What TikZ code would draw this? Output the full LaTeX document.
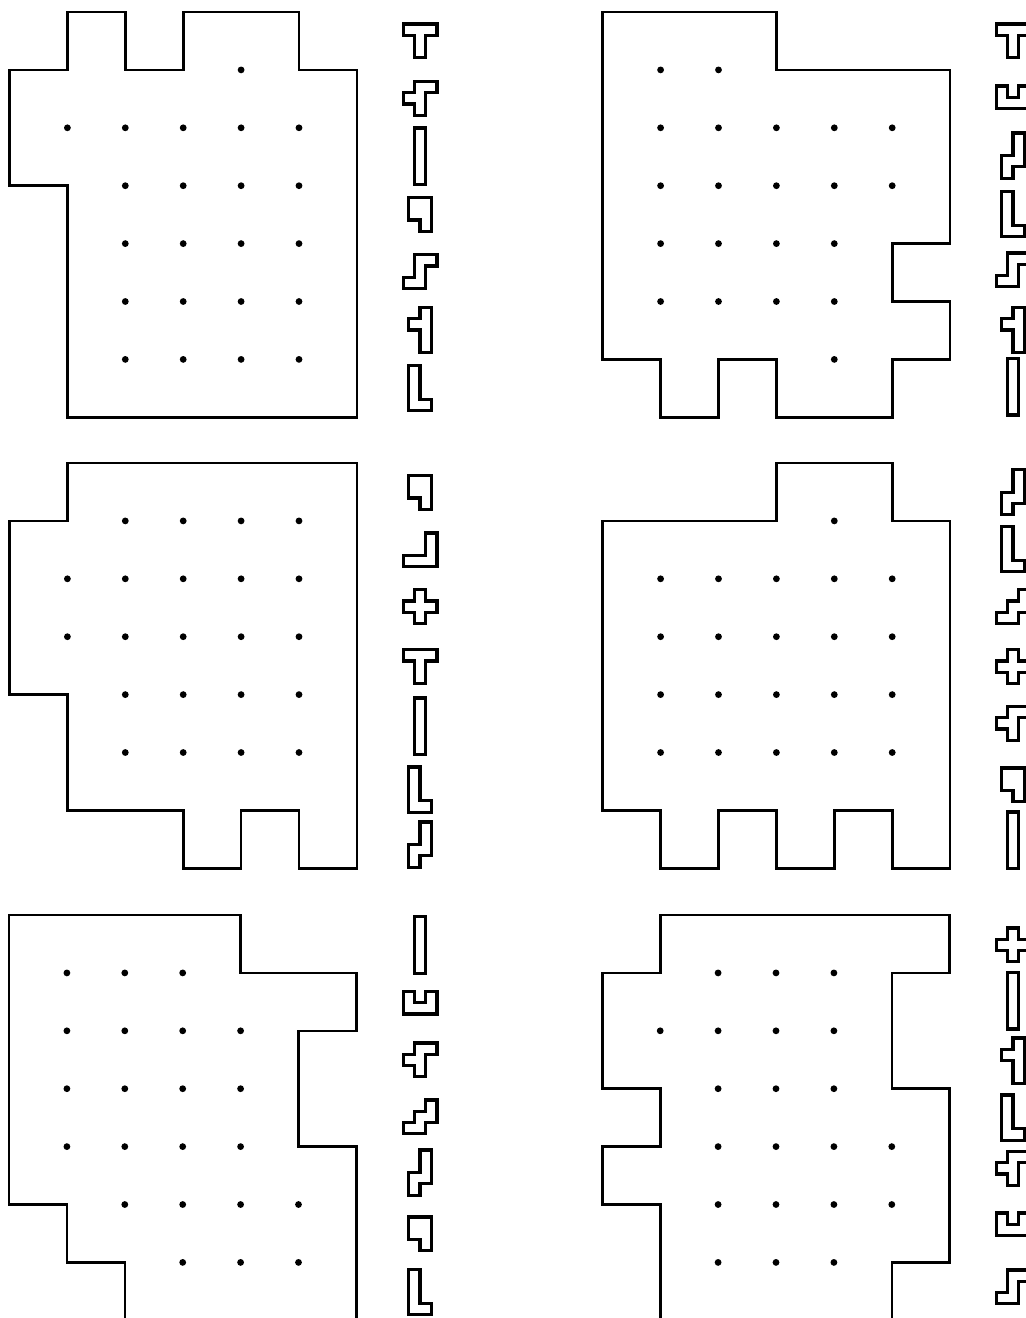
\documentclass[tikz,border=0pt]{standalone}
\usetikzlibrary{calc}

\tikzset{
  board/.style={line width=1.3pt, x=28.95pt, y=-28.95pt},
  piece/.style={line width=1.55pt, x=5.65pt, y=-5.65pt},
  pics/pT/.style={code={\draw[piece] (-1.5,0) -- (1.5,0) -- (1.5,1) -- (0.5,1) -- (0.5,3) -- (-0.5,3) -- (-0.5,1) -- (-1.5,1) -- cycle;}},
  pics/pF/.style={code={\draw[piece] (-0.5,0) -- (1.5,0) -- (1.5,1) -- (0.5,1) -- (0.5,3) -- (-0.5,3) -- (-0.5,2) -- (-1.5,2) -- (-1.5,1) -- (-0.5,1) -- cycle;}},
  pics/pI/.style={code={\draw[piece] (-0.5,0) -- (0.5,0) -- (0.5,5) -- (-0.5,5) -- cycle;}},
  pics/pP/.style={code={\draw[piece] (-1,0) -- (1,0) -- (1,3) -- (0,3) -- (0,2) -- (-1,2) -- cycle;}},
  pics/pZ/.style={code={\draw[piece] (-0.5,0) -- (1.5,0) -- (1.5,1) -- (0.5,1) -- (0.5,3) -- (-1.5,3) -- (-1.5,2) -- (-0.5,2) -- cycle;}},
  pics/pY/.style={code={\draw[piece] (0,0) -- (1,0) -- (1,4) -- (0,4) -- (0,2) -- (-1,2) -- (-1,1) -- (0,1) -- cycle;}},
  pics/pL/.style={code={\draw[piece] (-1,0) -- (0,0) -- (0,3) -- (1,3) -- (1,4) -- (-1,4) -- cycle;}},
  pics/pU/.style={code={\draw[piece] (-1.5,0) -- (-0.5,0) -- (-0.5,1) -- (0.5,1) -- (0.5,0) -- (1.5,0) -- (1.5,2) -- (-1.5,2) -- cycle;}},
  pics/pN/.style={code={\draw[piece] (0,0) -- (1,0) -- (1,3) -- (0,3) -- (0,4) -- (-1,4) -- (-1,2) -- (0,2) -- cycle;}},
  pics/pV/.style={code={\draw[piece] (0.5,0) -- (1.5,0) -- (1.5,3) -- (-1.5,3) -- (-1.5,2) -- (0.5,2) -- cycle;}},
  pics/pW/.style={code={\draw[piece] (0.5,0) -- (1.5,0) -- (1.5,2) -- (0.5,2) -- (0.5,3) -- (-1.5,3) -- (-1.5,2) -- (-0.5,2) -- (-0.5,1) -- (0.5,1) -- cycle;}},
  pics/pX/.style={code={\draw[piece] (-0.5,0) -- (0.5,0) -- (0.5,1) -- (1.5,1) -- (1.5,2) -- (0.5,2) -- (0.5,3) -- (-0.5,3) -- (-0.5,2) -- (-1.5,2) -- (-1.5,1) -- (-0.5,1) -- cycle;}},
}

\begin{document}
\begin{tikzpicture}[x=0.5pt, y=-0.5pt]
  \useasboundingbox (0,0) rectangle (1026,1318);

  % 左上
  \begin{scope}[shift={(9.5,12)}, board]
    \draw (1,0) -- (2,0) -- (2,1) -- (3,1) -- (3,0) -- (5,0) -- (5,1) -- (6,1) -- (6,7) -- (1,7) -- (1,3) -- (0,3) -- (0,1) -- (1,1) -- cycle;
    \fill (4,1) circle (1.7pt);
    \foreach \x in {1,...,5} \fill (\x,2) circle (1.7pt);
    \foreach \y in {3,...,6} \foreach \x in {2,...,5} \fill (\x,\y) circle (1.7pt);
  \end{scope}
  \pic at (420,24) {pT};
  \pic at (420,81.4) {pF};
  \pic at (420,128) {pI};
  \pic at (420,197.4) {pP};
  \pic at (420,254.7) {pZ};
  \pic at (420,307.4) {pY};
  \pic at (420,365.4) {pL};

  % 右上
  \begin{scope}[shift={(602.7,12)}, board]
    \draw (0,0) -- (3,0) -- (3,1) -- (6,1) -- (6,4) -- (5,4) -- (5,5) -- (6,5) -- (6,6) -- (5,6) -- (5,7) -- (3,7) -- (3,6) -- (2,6) -- (2,7) -- (1,7) -- (1,6) -- (0,6) -- cycle;
    \foreach \x in {1,2} \fill (\x,1) circle (1.7pt);
    \foreach \y in {2,3} \foreach \x in {1,...,5} \fill (\x,\y) circle (1.7pt);
    \foreach \y in {4,5} \foreach \x in {1,...,4} \fill (\x,\y) circle (1.7pt);
    \fill (4,6) circle (1.7pt);
  \end{scope}
  \pic at (1013,24) {pT};
  \pic at (1013,86) {pU};
  \pic at (1013,133) {pN};
  \pic at (1013,191.4) {pL};
  \pic at (1013,253) {pZ};
  \pic at (1013,307.4) {pY};
  \pic at (1013,358.5) {pI};

  % 左中
  \begin{scope}[shift={(9.5,463)}, board]
    \draw (1,0) -- (6,0) -- (6,7) -- (5,7) -- (5,6) -- (4,6) -- (4,7) -- (3,7) -- (3,6) -- (1,6) -- (1,4) -- (0,4) -- (0,1) -- (1,1) -- cycle;
    \foreach \x in {2,...,5} \fill (\x,1) circle (1.7pt);
    \foreach \y in {2,3} \foreach \x in {1,...,5} \fill (\x,\y) circle (1.7pt);
    \foreach \y in {4,5} \foreach \x in {2,...,5} \fill (\x,\y) circle (1.7pt);
  \end{scope}
  \pic at (420,475.4) {pP};
  \pic at (420,533) {pV};
  \pic at (420,589.7) {pX};
  \pic at (420,649.7) {pT};
  \pic at (420,698) {pI};
  \pic at (420,767) {pL};
  \pic at (420,822) {pN};

  % 右中
  \begin{scope}[shift={(602.7,463)}, board]
    \draw (3,0) -- (5,0) -- (5,1) -- (6,1) -- (6,7) -- (5,7) -- (5,6) -- (4,6) -- (4,7) -- (3,7) -- (3,6) -- (2,6) -- (2,7) -- (1,7) -- (1,6) -- (0,6) -- (0,1) -- (3,1) -- cycle;
    \fill (4,1) circle (1.7pt);
    \foreach \y in {2,...,5} \foreach \x in {1,...,5} \fill (\x,\y) circle (1.7pt);
  \end{scope}
  \pic at (1013,469.7) {pN};
  \pic at (1013,526.4) {pL};
  \pic at (1013,589.7) {pW};
  \pic at (1013,649.7) {pX};
  \pic at (1013,706.4) {pF};
  \pic at (1013,768) {pP};
  \pic at (1013,812) {pI};

  % 左下
  \begin{scope}[shift={(9,915)}, board]
    \draw (0,0) -- (4,0) -- (4,1) -- (6,1) -- (6,2) -- (5,2) -- (5,4) -- (6,4) -- (6,7) -- (2,7) -- (2,6) -- (1,6) -- (1,5) -- (0,5) -- cycle;
    \foreach \x in {1,2,3} \fill (\x,1) circle (1.7pt);
    \foreach \y in {2,3,4} \foreach \x in {1,...,4} \fill (\x,\y) circle (1.7pt);
    \foreach \x in {2,...,5} \fill (\x,5) circle (1.7pt);
    \foreach \x in {3,4,5} \fill (\x,6) circle (1.7pt);
  \end{scope}
  \pic at (420,916.7) {pI};
  \pic at (420,991.4) {pU};
  \pic at (420,1043) {pF};
  \pic at (420,1100) {pW};
  \pic at (420,1150) {pN};
  \pic at (420,1217) {pP};
  \pic at (420,1269.7) {pL};

  % 右下
  \begin{scope}[shift={(602.3,915)}, board]
    \draw (1,0) -- (6,0) -- (6,1) -- (5,1) -- (5,3) -- (6,3) -- (6,6) -- (5,6) -- (5,7) -- (1,7) -- (1,5) -- (0,5) -- (0,4) -- (1,4) -- (1,3) -- (0,3) -- (0,1) -- (1,1) -- cycle;
    \foreach \x in {2,3,4} \fill (\x,1) circle (1.7pt);
    \foreach \x in {1,...,4} \fill (\x,2) circle (1.7pt);
    \foreach \x in {2,3,4} \fill (\x,3) circle (1.7pt);
    \foreach \y in {4,5} \foreach \x in {2,...,5} \fill (\x,\y) circle (1.7pt);
    \foreach \x in {2,3,4} \fill (\x,6) circle (1.7pt);
  \end{scope}
  \pic at (1013,928) {pX};
  \pic at (1013,972.5) {pI};
  \pic at (1013,1038) {pY};
  \pic at (1013,1095) {pL};
  \pic at (1013,1151.4) {pF};
  \pic at (1013,1213) {pU};
  \pic at (1013,1270) {pZ};
\end{tikzpicture}
\end{document}
